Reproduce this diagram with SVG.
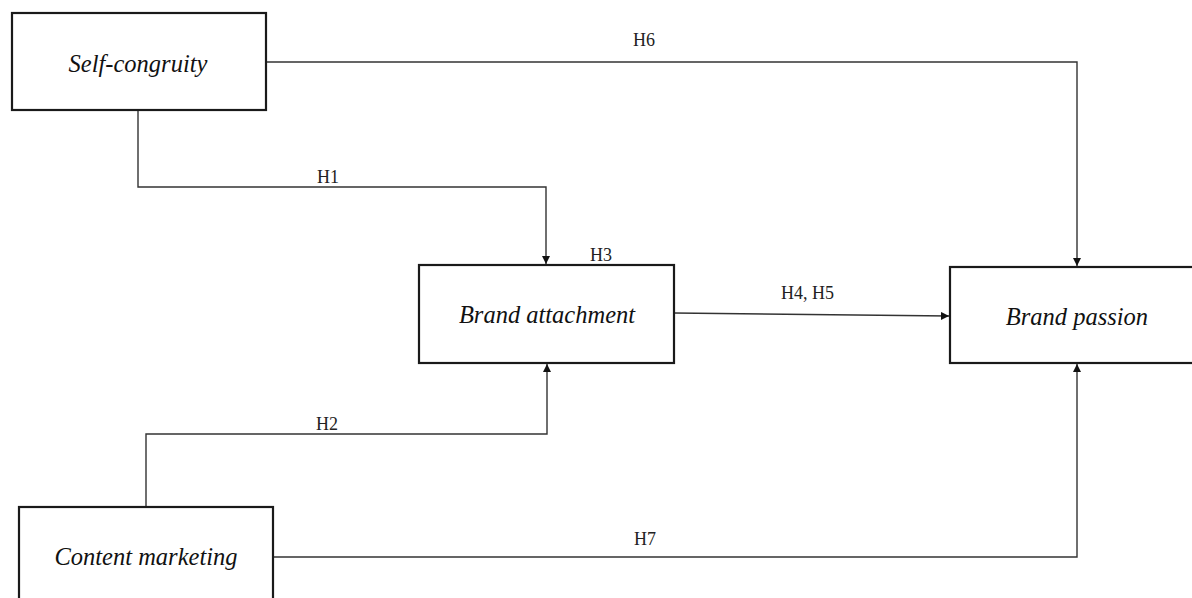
<svg xmlns="http://www.w3.org/2000/svg" width="1192" height="598" viewBox="0 0 1192 598">
<style>
.box{fill:#fff;stroke:#1a1a1a;stroke-width:2.2}
.nt{font-family:"Liberation Serif","Times New Roman",serif;font-style:italic;font-size:24.5px;fill:#111;text-anchor:middle}
.lb{font-family:"Liberation Serif","Times New Roman",serif;font-size:18px;fill:#222}
.cn{fill:none;stroke:#333;stroke-width:1.4}
</style>
<defs>
<marker id="ah" viewBox="0 0 10 10" refX="10" refY="5" markerWidth="8" markerHeight="8" markerUnits="userSpaceOnUse" orient="auto">
<path d="M0,0 L10,5 L0,10 z" fill="#111"/>
</marker>
</defs>
<rect width="1192" height="598" fill="#fff"/>
<g id="connectors">
<path class="cn" d="M266,62 H1077 V266" marker-end="url(#ah)"/>
<path class="cn" d="M138,110 V187 H546 V264" marker-end="url(#ah)"/>
<path class="cn" d="M146,507 V434 H547 V364" marker-end="url(#ah)"/>
<path class="cn" d="M674,313 L949,316" marker-end="url(#ah)"/>
<path class="cn" d="M273,557 H1077 V364" marker-end="url(#ah)"/>
</g>
<g id="labels">
<text class="lb" x="633" y="46">H6</text>
<text class="lb" x="317" y="183">H1</text>
<text class="lb" x="590" y="261">H3</text>
<text class="lb" x="781" y="299">H4, H5</text>
<text class="lb" x="316" y="430">H2</text>
<text class="lb" x="634" y="545">H7</text>
</g>
<g id="self-congruity">
<rect class="box" x="12" y="13" width="254" height="97"/>
<text class="nt" x="138" y="72">Self-congruity</text>
</g>
<g id="brand-attachment">
<rect class="box" x="419" y="265" width="255" height="98"/>
<text class="nt" x="547" y="323">Brand attachment</text>
</g>
<g id="brand-passion">
<rect class="box" x="950" y="267" width="256" height="96"/>
<text class="nt" x="1077" y="325">Brand passion</text>
</g>
<g id="content-marketing">
<rect class="box" x="19" y="507" width="254" height="100"/>
<text class="nt" x="146" y="565">Content marketing</text>
</g>
</svg>
